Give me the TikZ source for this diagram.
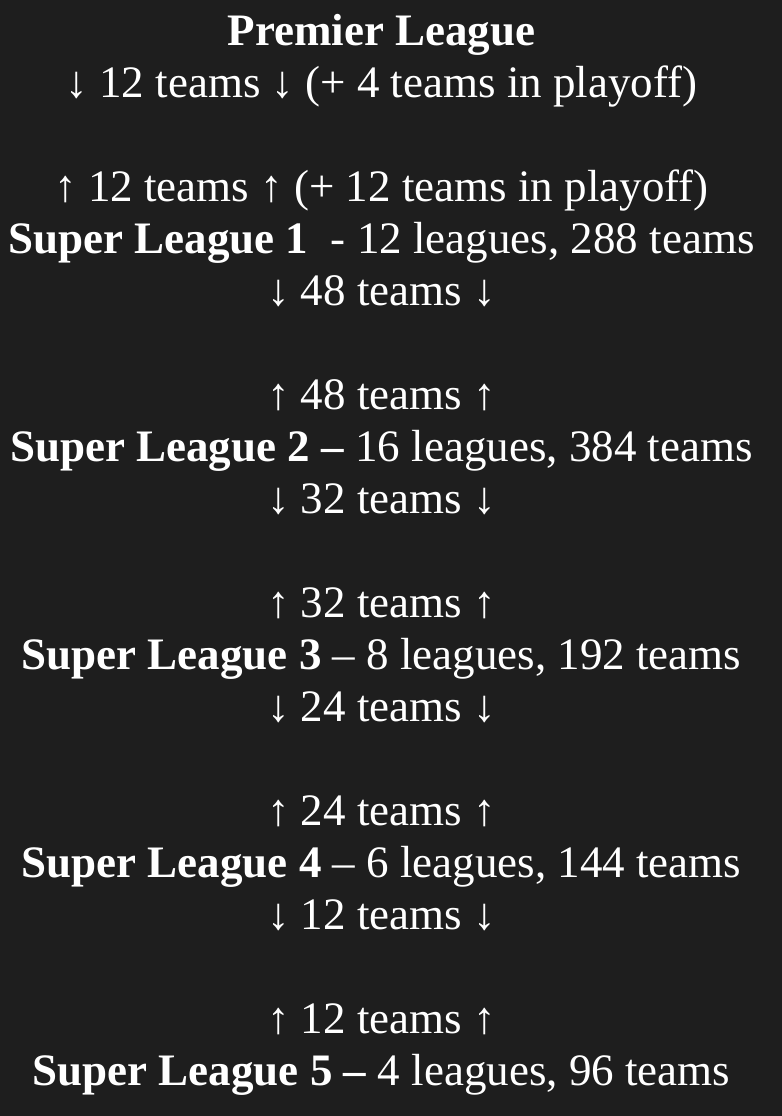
\documentclass[tikz,border=0pt]{standalone}
\usepackage{fontspec}
\setmainfont{Liberation Serif}
\usetikzlibrary{positioning}
\definecolor{bgdark}{HTML}{1E1E1E}
\tikzset{rowtext/.style={text=white, anchor=base, inner sep=0pt, font=\fontsize{45bp}{52bp}\selectfont}}

\begin{document}
\begin{tikzpicture}[x=1bp,y=-1bp]
	\fill[bgdark] (0,0) rectangle (782,1116);
	\useasboundingbox (0,0) rectangle (782,1116);
	% top league
	\node[rowtext] (premier) at (381.5,45) {\textbf{Premier League}};
	\node[rowtext] (premierdown) at (381.5,97) {↓ 12 teams ↓ (+ 4 teams in playoff)};
	% super league 1
	\node[rowtext] (slaup) at (381.5,201) {↑ 12 teams ↑ (+ 12 teams in playoff)};
	\node[rowtext] (sla) at (381.5,253) {\textbf{Super League 1}\ \ - 12 leagues, 288 teams};
	\node[rowtext] (sladown) at (381.5,305) {↓ 48 teams ↓};
	% super league 2
	\node[rowtext] (slbup) at (381.5,409) {↑ 48 teams ↑};
	\node[rowtext] (slb) at (381.5,461) {\textbf{Super League 2 –} 16 leagues, 384 teams};
	\node[rowtext] (slbdown) at (381.5,513) {↓ 32 teams ↓};
	% super league 3
	\node[rowtext] (slcup) at (381.5,617) {↑ 32 teams ↑};
	\node[rowtext] (slc) at (381.5,669) {\textbf{Super League 3} – 8 leagues, 192 teams};
	\node[rowtext] (slcdown) at (381.5,721) {↓ 24 teams ↓};
	% super league 4
	\node[rowtext] (sldup) at (381.5,825) {↑ 24 teams ↑};
	\node[rowtext] (sld) at (381.5,877) {\textbf{Super League 4} – 6 leagues, 144 teams};
	\node[rowtext] (slddown) at (381.5,929) {↓ 12 teams ↓};
	% super league 5
	\node[rowtext] (sleup) at (381.5,1033) {↑ 12 teams ↑};
	\node[rowtext] (sle) at (381.5,1085) {\textbf{Super League 5 –} 4 leagues, 96 teams};
\end{tikzpicture}
\end{document}
